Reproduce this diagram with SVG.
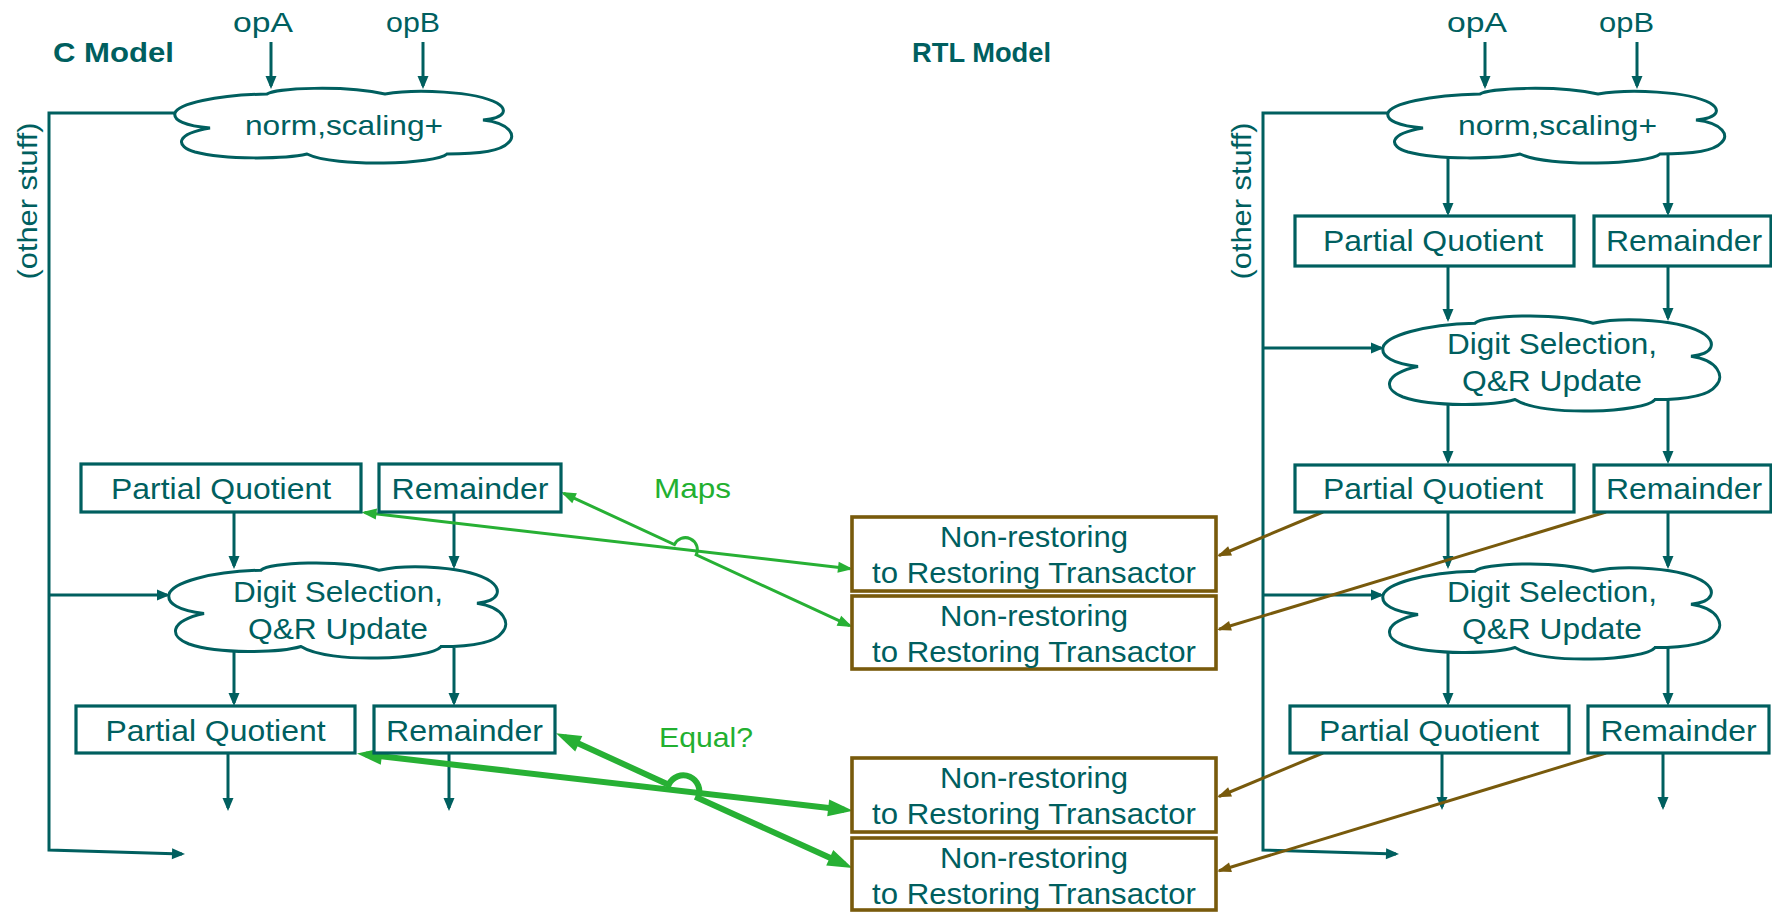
<svg xmlns="http://www.w3.org/2000/svg" xmlns:xlink="http://www.w3.org/1999/xlink" width="1772" height="912" viewBox="0 0 1772 912">
  <style>
    text { font-family: "Liberation Sans", Arial, sans-serif; fill: #005f5f; }
    .title { font-weight: bold; font-size: 28px; }
    .lbl { font-size: 28px; text-anchor: middle; }
    .box-t { font-size: 30px; text-anchor: middle; }
    .nr-t { font-size: 29px; text-anchor: middle; }
    .note { font-size: 28px; fill: #22b030; }
    .box { fill: #fff; stroke: #005f5f; stroke-width: 3.2; }
    .nr { fill: #fff; stroke: #785a0c; stroke-width: 3.6; }
    .teal { fill: none; stroke: #005f5f; stroke-width: 3; marker-end: url(#ah-teal); }
    .bus { fill: none; stroke: #005f5f; stroke-width: 3; marker-end: url(#ah-teal); }
    .map { fill: none; stroke: #27b034; stroke-width: 3; marker-start: url(#ah-green); marker-end: url(#ah-green); }
    .eq { fill: none; stroke: #27b034; stroke-width: 6; marker-start: url(#ah-green-b); marker-end: url(#ah-green-b); }
    .brown { fill: none; stroke: #785a0c; stroke-width: 3; marker-end: url(#ah-brown); }
  </style>
  <defs>
    <marker id="ah-teal" markerUnits="userSpaceOnUse" markerWidth="14" markerHeight="12" refX="10" refY="5.5" orient="auto" overflow="visible">
      <path d="M0,0 L13,5.5 L0,11 Z" fill="#005f5f"/>
    </marker>
    <marker id="ah-green" markerUnits="userSpaceOnUse" markerWidth="16" markerHeight="12" refX="12" refY="5.5" orient="auto-start-reverse" overflow="visible">
      <path d="M0,0 L15,5.5 L0,11 Z" fill="#27b034"/>
    </marker>
    <marker id="ah-green-b" markerUnits="userSpaceOnUse" markerWidth="26" markerHeight="18" refX="16" refY="8.5" orient="auto-start-reverse" overflow="visible">
      <path d="M0,0 L25,8.5 L0,17 Z" fill="#27b034"/>
    </marker>
    <marker id="ah-brown" markerUnits="userSpaceOnUse" markerWidth="16" markerHeight="12" refX="12" refY="5" orient="auto" overflow="visible">
      <path d="M0,0 L14,5 L0,10 Z" fill="#785a0c"/>
    </marker>
    <!-- cloud outline in a 340 x 77 box -->
    <path id="cloud" d="M0,27 C3,18 40,9 92,8 C100,2 170,-1 210,8 C240,3 300,5 322,17 C332,23 332,32 308,34 C335,37 342,50 333,57 C325,66 295,68 272,68 C262,78 160,82 132,68 C110,73 50,74 20,66 C0,60 0,48 35,42 C10,40 -2,34 0,27 Z" fill="#fff" stroke="#005f5f" stroke-width="3" vector-effect="non-scaling-stroke"/>
  </defs>

  <rect width="1772" height="912" fill="#fff"/>

  <!-- connectors -->
  <g id="connectors">
    <!-- C model flow -->
    <path class="teal" d="M271,42 V86"/>
    <path class="teal" d="M423,42 V86"/>
    <path class="bus" d="M175,113 H49 V850 L182,854"/>
    <path class="teal" d="M49,595 H167"/>
    <path class="teal" d="M234,512 V566"/>
    <path class="teal" d="M454,512 V566"/>
    <path class="teal" d="M234,652 V703"/>
    <path class="teal" d="M454,648 V703"/>
    <path class="teal" d="M228,753 V808"/>
    <path class="teal" d="M449,753 V808"/>

    <!-- RTL model flow -->
    <path class="teal" d="M1485,42 V86"/>
    <path class="teal" d="M1637,42 V86"/>
    <path class="bus" d="M1388,113 H1263 V850 L1396,854"/>
    <path class="teal" d="M1263,348 H1381"/>
    <path class="teal" d="M1263,595 H1381"/>
    <path class="teal" d="M1448,158 V213"/>
    <path class="teal" d="M1668,155 V213"/>
    <path class="teal" d="M1448,266 V319"/>
    <path class="teal" d="M1668,266 V318"/>
    <path class="teal" d="M1448,405 V461"/>
    <path class="teal" d="M1668,400 V461"/>
    <path class="teal" d="M1448,512 V566"/>
    <path class="teal" d="M1668,512 V566"/>
    <path class="teal" d="M1448,652 V703"/>
    <path class="teal" d="M1668,648 V703"/>
    <path class="teal" d="M1442,753 V807"/>
    <path class="teal" d="M1663,753 V807"/>

    <!-- RTL state into transactors -->
    <path class="brown" d="M1323,512 L1219,555.5"/>
    <path class="brown" d="M1606,512 L1219,629.3"/>
    <path class="brown" d="M1323,753 L1219,796.5"/>
    <path class="brown" d="M1606,753 L1219,870.8"/>

    <!-- mapping links -->
    <path class="map" d="M364.5,512.6 L850,568.7"/>
    <path class="map" d="M563.7,493.3 L674.4,544.6 A12,12 0 0 1 696.2,554.8 L849.8,625.7"/>

    <!-- equality links -->
    <path class="eq" d="M365.9,754.5 L844.1,809.7"/>
    <path class="eq" d="M564.2,737 L668.7,784.7 A16,16 0 0 1 697.9,797.9 L844.3,864.3"/>
  </g>

  <!-- titles and notes -->
  <g id="c-model-title"><text class="title" x="53" y="62" textLength="121" lengthAdjust="spacingAndGlyphs">C Model</text></g>
  <g id="rtl-model-title"><text class="title" x="912" y="62" textLength="139" lengthAdjust="spacingAndGlyphs">RTL Model</text></g>
  <g id="maps-label"><text class="note" x="654" y="498" textLength="77" lengthAdjust="spacingAndGlyphs">Maps</text></g>
  <g id="equal-label"><text class="note" x="659" y="747" textLength="94" lengthAdjust="spacingAndGlyphs">Equal?</text></g>

  <!-- C model nodes -->
  <g id="c-opA"><text class="lbl" x="263" y="32" textLength="60" lengthAdjust="spacingAndGlyphs">opA</text></g>
  <g id="c-opB"><text class="lbl" x="413" y="32" textLength="54" lengthAdjust="spacingAndGlyphs">opB</text></g>
  <g id="c-other"><text class="lbl" transform="translate(37,201) rotate(-90)" textLength="157" lengthAdjust="spacingAndGlyphs">(other stuff)</text></g>
  <g id="c-norm">
    <use href="#cloud" transform="translate(175,86)"/>
    <text class="lbl" x="344" y="135" textLength="198" lengthAdjust="spacingAndGlyphs">norm,scaling+</text>
  </g>
  <g id="c-pq1">
    <rect class="box" x="81" y="464" width="280" height="48"/>
    <text class="box-t" x="221" y="499" textLength="220" lengthAdjust="spacingAndGlyphs">Partial Quotient</text>
  </g>
  <g id="c-rem1">
    <rect class="box" x="379" y="464" width="182" height="48"/>
    <text class="box-t" x="470" y="499" textLength="157" lengthAdjust="spacingAndGlyphs">Remainder</text>
  </g>
  <g id="c-digit">
    <use href="#cloud" transform="translate(169,560) scale(1,1.273)"/>
    <text class="box-t" x="338" y="602" textLength="210" lengthAdjust="spacingAndGlyphs">Digit Selection,</text>
    <text class="box-t" x="338" y="639" textLength="180" lengthAdjust="spacingAndGlyphs">Q&amp;R Update</text>
  </g>
  <g id="c-pq2">
    <rect class="box" x="76" y="706" width="279" height="47"/>
    <text class="box-t" x="215.5" y="741" textLength="220" lengthAdjust="spacingAndGlyphs">Partial Quotient</text>
  </g>
  <g id="c-rem2">
    <rect class="box" x="374" y="706" width="181" height="47"/>
    <text class="box-t" x="464.5" y="741" textLength="157" lengthAdjust="spacingAndGlyphs">Remainder</text>
  </g>

  <!-- transactors -->
  <g id="nr1">
    <rect class="nr" x="852" y="517" width="364" height="74"/>
    <text class="nr-t" x="1034" y="547" textLength="188" lengthAdjust="spacingAndGlyphs">Non-restoring</text>
    <text class="nr-t" x="1034" y="583" textLength="324" lengthAdjust="spacingAndGlyphs">to Restoring Transactor</text>
  </g>
  <g id="nr2">
    <rect class="nr" x="852" y="596" width="364" height="73"/>
    <text class="nr-t" x="1034" y="626" textLength="188" lengthAdjust="spacingAndGlyphs">Non-restoring</text>
    <text class="nr-t" x="1034" y="662" textLength="324" lengthAdjust="spacingAndGlyphs">to Restoring Transactor</text>
  </g>
  <g id="nr3">
    <rect class="nr" x="852" y="758" width="364" height="74"/>
    <text class="nr-t" x="1034" y="788" textLength="188" lengthAdjust="spacingAndGlyphs">Non-restoring</text>
    <text class="nr-t" x="1034" y="824" textLength="324" lengthAdjust="spacingAndGlyphs">to Restoring Transactor</text>
  </g>
  <g id="nr4">
    <rect class="nr" x="852" y="838" width="364" height="72"/>
    <text class="nr-t" x="1034" y="868" textLength="188" lengthAdjust="spacingAndGlyphs">Non-restoring</text>
    <text class="nr-t" x="1034" y="904" textLength="324" lengthAdjust="spacingAndGlyphs">to Restoring Transactor</text>
  </g>

  <!-- RTL model nodes -->
  <g id="r-opA"><text class="lbl" x="1477" y="32" textLength="60" lengthAdjust="spacingAndGlyphs">opA</text></g>
  <g id="r-opB"><text class="lbl" x="1626.5" y="32" textLength="55" lengthAdjust="spacingAndGlyphs">opB</text></g>
  <g id="r-other"><text class="lbl" transform="translate(1251,201) rotate(-90)" textLength="157" lengthAdjust="spacingAndGlyphs">(other stuff)</text></g>
  <g id="r-norm">
    <use href="#cloud" transform="translate(1388,86)"/>
    <text class="lbl" x="1557.5" y="135" textLength="199" lengthAdjust="spacingAndGlyphs">norm,scaling+</text>
  </g>
  <g id="r-pq0">
    <rect class="box" x="1295" y="216" width="279" height="50"/>
    <text class="box-t" x="1433" y="251" textLength="220" lengthAdjust="spacingAndGlyphs">Partial Quotient</text>
  </g>
  <g id="r-rem0">
    <rect class="box" x="1594" y="216" width="177" height="50"/>
    <text class="box-t" x="1684" y="251" textLength="156" lengthAdjust="spacingAndGlyphs">Remainder</text>
  </g>
  <g id="r-digit1">
    <use href="#cloud" transform="translate(1383,313) scale(1,1.273)"/>
    <text class="box-t" x="1552" y="354" textLength="210" lengthAdjust="spacingAndGlyphs">Digit Selection,</text>
    <text class="box-t" x="1552" y="391" textLength="180" lengthAdjust="spacingAndGlyphs">Q&amp;R Update</text>
  </g>
  <g id="r-pq1">
    <rect class="box" x="1295" y="465" width="279" height="47"/>
    <text class="box-t" x="1433" y="499" textLength="220" lengthAdjust="spacingAndGlyphs">Partial Quotient</text>
  </g>
  <g id="r-rem1">
    <rect class="box" x="1594" y="465" width="177" height="47"/>
    <text class="box-t" x="1684" y="499" textLength="156" lengthAdjust="spacingAndGlyphs">Remainder</text>
  </g>
  <g id="r-digit2">
    <use href="#cloud" transform="translate(1383,561) scale(1,1.273)"/>
    <text class="box-t" x="1552" y="602" textLength="210" lengthAdjust="spacingAndGlyphs">Digit Selection,</text>
    <text class="box-t" x="1552" y="639" textLength="180" lengthAdjust="spacingAndGlyphs">Q&amp;R Update</text>
  </g>
  <g id="r-pq2">
    <rect class="box" x="1290" y="706" width="279" height="47"/>
    <text class="box-t" x="1429" y="741" textLength="220" lengthAdjust="spacingAndGlyphs">Partial Quotient</text>
  </g>
  <g id="r-rem2">
    <rect class="box" x="1588" y="706" width="181" height="47"/>
    <text class="box-t" x="1678.5" y="741" textLength="156" lengthAdjust="spacingAndGlyphs">Remainder</text>
  </g>
</svg>
